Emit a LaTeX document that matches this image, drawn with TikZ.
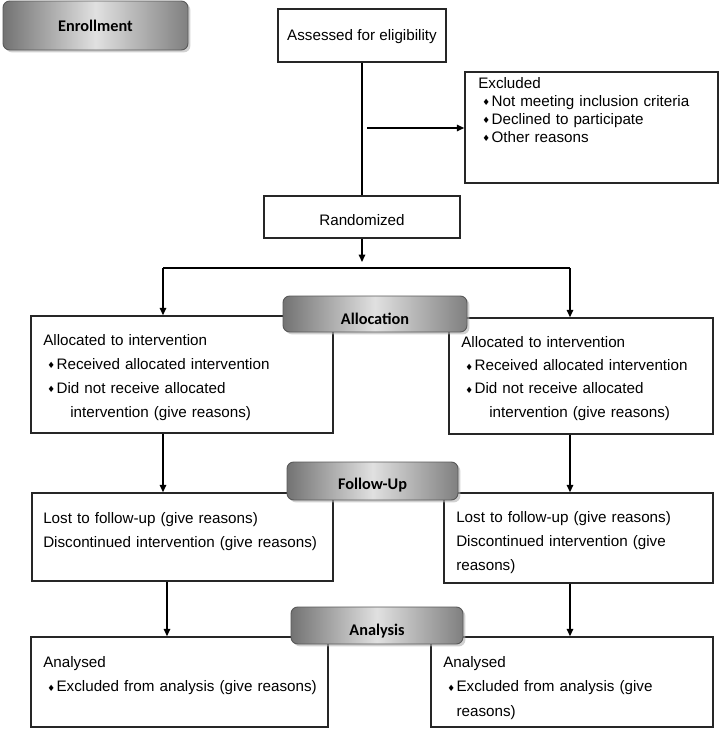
\documentclass[tikz,border=0pt]{standalone}
\usepackage{fontspec}
\setmainfont{Liberation Sans}
\newfontfamily\lblfont{Carlito}
\newfontfamily\symfont{DejaVu Sans}
\usetikzlibrary{arrows.meta,shadows}
\newcommand{\bl}{\hspace*{3pt}\makebox[7pt][l]{\raisebox{0.3pt}{\symfont\fontsize{6.5}{6.5}\selectfont ♦}}}
\newcommand{\lblf}{\lblfont\bfseries\fontsize{12.2}{13}\selectfont}
\begin{document}
\begin{tikzpicture}[x=0.75pt,y=-0.75pt,
  box/.style={draw=black!85, line width=1.1pt, inner sep=0pt},
  txt/.style={anchor=base west, inner sep=0pt, text width=270pt, align=left},
  arr/.style={line width=1.1pt, -{Triangle[length=5.5pt,width=4.8pt]}},
  ln/.style={line width=1.1pt},
  lbl/.style={draw=black!65, line width=0.7pt, rounded corners=5pt, inner sep=0pt,
    left color=black!55, right color=black!50, middle color=black!12,
    drop shadow={shadow xshift=1.8pt, shadow yshift=-1.8pt, fill=black!30, opacity=0.6}}
  ]
\useasboundingbox (0,0) rectangle (720,729);
\tikzset{every node/.append style={font=\fontsize{11.4}{18}\selectfont}}

% boxes
\node[box, minimum width=126pt, minimum height=39.75pt, label={[yshift=-1pt]center:Assessed for eligibility}] (assess) at (362,35.5) {};
\node[box, minimum width=189.75pt, minimum height=83.25pt] (excl) at (591.5,127.5) {};
\node[box, minimum width=147pt, minimum height=31.5pt, label={[yshift=-2.5pt]center:Randomized}] (rand) at (362,217) {};
\node[box, minimum width=226.5pt, minimum height=87.75pt] (allocL) at (182,374.5) {};
\node[box, minimum width=198pt, minimum height=87pt] (allocR) at (581,376) {};
\node[box, minimum width=225.75pt, minimum height=66pt] (followL) at (182.5,537) {};
\node[box, minimum width=201.75pt, minimum height=67.5pt] (followR) at (578.5,538) {};
\node[box, minimum width=222.75pt, minimum height=67.5pt] (anaL) at (179.5,682) {};
\node[box, minimum width=211.5pt, minimum height=67.5pt] (anaR) at (572,682) {};

% texts
\node[txt, font=\fontsize{11.4}{13.5}\selectfont] (tExcl) at (478,88) {Excluded\\
\bl Not meeting inclusion criteria\\
\bl Declined to participate\\
\bl Other reasons};
\node[txt] (tAllocL) at (43,345) {Allocated to intervention\\
\bl Received allocated intervention\\
\bl Did not receive allocated\\
\hspace*{20.25pt}intervention (give reasons)};
\node[txt, font=\fontsize{11.4}{17.6}\selectfont] (tAllocR) at (461,347) {Allocated to intervention\\
\bl Received allocated intervention\\
\bl Did not receive allocated\\
\hspace*{21pt}intervention (give reasons)};
\node[txt] (tFollowL) at (43,523) {Lost to follow-up (give reasons)\\
Discontinued intervention (give reasons)};
\node[txt] (tFollowR) at (456,522) {Lost to follow-up (give reasons)\\
Discontinued intervention (give\\
reasons)};
\node[txt, font=\fontsize{11.4}{18.4}\selectfont] (tAnaL) at (43,667) {Analysed\\
\bl Excluded from analysis (give reasons)};
\node[txt, font=\fontsize{11.4}{18.4}\selectfont] (tAnaR) at (443,667) {Analysed\\
\bl Excluded from analysis (give\\
\hspace*{10pt}reasons)};

% connectors
\coordinate (exStart) at (367,128);
\coordinate (rEnd) at (362,262);
\coordinate (hl) at (163,268);
\coordinate (hr) at (570,268);
\coordinate (tl) at (288,268);
\coordinate (tr) at (445,268);
\coordinate (fl) at (167,581);

\draw[ln] (assess.south) -- (rand.north);
\draw[arr] (exStart) -- (exStart -| excl.west);
\draw[arr] (rand.south) -- (rEnd);
\draw[ln] (hl) -- (hr);
\draw[line width=2pt] (tl) -- (tr);
\draw[arr] (hl) -- (hl |- allocL.north);
\draw[arr] (hr) -- (hr |- allocR.north);
\draw[arr] (hl |- allocL.south) -- (hl |- followL.north);
\draw[arr] (hr |- allocR.south) -- (hr |- followR.north);
\draw[arr] (fl |- followL.south) -- (fl |- anaL.north);
\draw[arr] (hr |- followR.south) -- (hr |- anaR.north);

% stage labels
\node[lbl, minimum width=138.75pt, minimum height=36.75pt, label={[font=\lblf]center:Enrollment}] (enroll) at (95.5,25.5) {};
\node[lbl, minimum width=138pt, minimum height=27pt, label={[yshift=-3.5pt, font=\lblf]center:Allocation}] (allocLbl) at (375,314) {};
\node[lbl, minimum width=128.25pt, minimum height=28.5pt, label={[yshift=-3pt, font=\lblf]center:Follow-Up}] (followLbl) at (372.5,481) {};
\node[lbl, minimum width=129pt, minimum height=27.75pt, label={[yshift=-4.5pt, font=\lblf]center:Analysis}] (anaLbl) at (377,625.5) {};
\end{tikzpicture}
\end{document}
